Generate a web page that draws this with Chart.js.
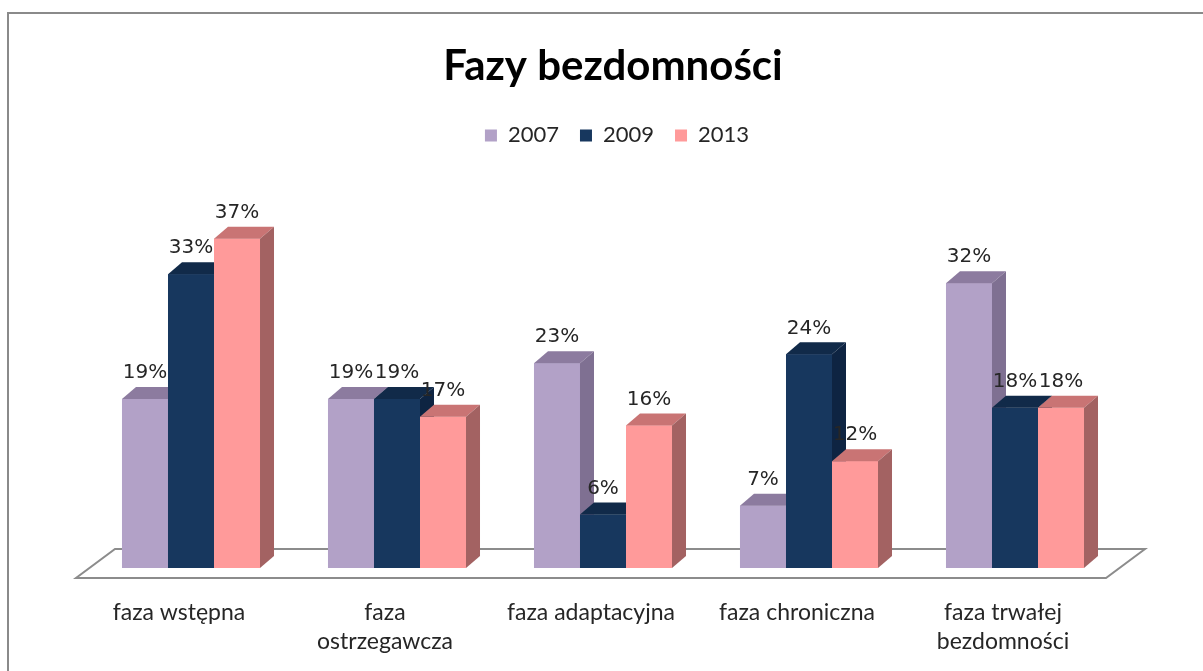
<!DOCTYPE html>
<html>
<head>
<meta charset="utf-8">
<script src="https://cdn.jsdelivr.net/npm/chart.js@4"></script>
<style>
  html, body { margin: 0; padding: 0; background: #fff; overflow: hidden; }
  #wrap { position: relative; width: 1203px; height: 671px; }
  #frame { position: absolute; left: 7px; top: 12px; width: 1300px; height: 800px;
           border: 2px solid #8a8a8a; box-sizing: border-box; pointer-events: none; }
  canvas { position: absolute; left: 0; top: 0; }
</style>
</head>
<body>
<div id="wrap">
  <canvas id="chart" width="1203" height="671"></canvas>
  <div id="frame"></div>
</div>
<script>
// dane
var categories = [
  "faza wstępna",
  ["faza", "ostrzegawcza"],
  "faza adaptacyjna",
  "faza chroniczna",
  ["faza trwałej", "bezdomności"]
];
var years = ["2007", "2009", "2013"];
var v2007 = [19, 19, 23, 7, 32];
var v2009 = [33, 19, 6, 24, 18];
var v2013 = [37, 17, 16, 12, 18];

// kolory: przód, góra, bok
var front = ['#b2a1c7', '#17375e', '#ff9a9a'];
var top3d = ['#8c7b9f', '#112a49', '#c97474'];
var side3d = ['#7f7092', '#0e2442', '#a36262'];

var DX = 14, DY = 12;

// podloga 3D
var floorPlugin = {
  id: 'floor',
  beforeDatasetsDraw: function(chart) {
    var a = chart.chartArea, c = chart.ctx;
    c.save();
    c.beginPath();
    c.moveTo(a.left - 12, a.bottom + 10);
    c.lineTo(a.right - 12, a.bottom + 10);
    c.lineTo(a.right + 27, a.bottom - 19);
    c.lineTo(a.left + 27, a.bottom - 19);
    c.closePath();
    c.fillStyle = '#fff';
    c.fill();
    c.lineWidth = 2;
    c.strokeStyle = '#8c8c8c';
    c.stroke();
    c.restore();
  }
};

// slupki 3D: przod, gora, bok - w kolejnosci serii
var box3d = {
  id: 'box3d',
  afterDatasetsDraw: function(chart) {
    var c = chart.ctx;
    c.save();
    chart.data.datasets.forEach(function(ds, i) {
      chart.getDatasetMeta(i).data.forEach(function(bar) {
        var p = bar.getProps(['x', 'y', 'base', 'width'], true);
        var l = p.x - p.width / 2, r = p.x + p.width / 2;
        c.fillStyle = front[i];
        c.fillRect(l, p.y, r - l, p.base - p.y);
        c.fillStyle = top3d[i];
        c.beginPath();
        c.moveTo(l, p.y);
        c.lineTo(l + DX, p.y - DY);
        c.lineTo(r + DX, p.y - DY);
        c.lineTo(r, p.y);
        c.closePath();
        c.fill();
        c.fillStyle = side3d[i];
        c.beginPath();
        c.moveTo(r, p.y);
        c.lineTo(r + DX, p.y - DY);
        c.lineTo(r + DX, p.base - DY);
        c.lineTo(r, p.base);
        c.closePath();
        c.fill();
      });
    });
    // etykiety wartosci
    c.font = '20px "DejaVu Sans"';
    c.fillStyle = '#262626';
    c.textAlign = 'center';
    c.textBaseline = 'bottom';
    chart.data.datasets.forEach(function(ds, i) {
      chart.getDatasetMeta(i).data.forEach(function(bar, j) {
        c.fillText(ds.data[j] + '%', bar.x, bar.y - 16);
      });
    });
    c.restore();
  }
};

// wiecej miejsca pod legenda, tytul i legenda troche w prawo
var legendGap = {
  id: 'legendGap',
  beforeInit: function(chart) {
    var fit = chart.legend.fit;
    chart.legend.fit = function() {
      fit.bind(chart.legend)();
      this.height += 60;
    };
  },
  afterLayout: function(chart) {
    chart.legend.left += 14;
    chart.legend.right += 14;
    chart.titleBlock.left += 10;
    chart.titleBlock.right += 10;
  }
};

var ctx = document.getElementById("chart");

new Chart(ctx, {
  type: 'bar',
  data: {
    labels: categories,
    datasets: [
      { label: years[0], data: v2007, backgroundColor: front[0] },
      { label: years[1], data: v2009, backgroundColor: front[1] },
      { label: years[2], data: v2013, backgroundColor: front[2] }
    ]
  },
  options: {
    responsive: false,
    animation: false,
    events: [],
    layout: { padding: { left: 88, right: 85, top: 0, bottom: 14 } },
    datasets: { bar: { categoryPercentage: 0.67, barPercentage: 1.0, borderWidth: 0 } },
    scales: {
      x: {
        grid: { display: false, drawTicks: false },
        border: { display: false },
        afterFit: function(scale) { scale.height = 89; },
        ticks: {
          padding: 30,
          labelOffset: -12,
          maxRotation: 0,
          autoSkip: false,
          color: '#262626',
          font: { family: 'Lato', size: 23, lineHeight: 1.26 }
        }
      },
      y: {
        display: false,
        min: 0,
        max: 39.5
      }
    },
    plugins: {
      title: {
        display: true,
        text: 'Fazy bezdomności',
        color: '#000',
        font: { family: 'Lato', size: 42, weight: 'bold', lineHeight: 1.2 },
        padding: { top: 41, bottom: 12 }
      },
      legend: {
        position: 'top',
        labels: {
          boxWidth: 12,
          boxHeight: 12,
          padding: 21,
          color: '#262626',
          font: { family: 'Lato', size: 22 }
        }
      },
      tooltip: { enabled: false }
    }
  },
  plugins: [floorPlugin, box3d, legendGap]
});
</script>
</body>
</html>
